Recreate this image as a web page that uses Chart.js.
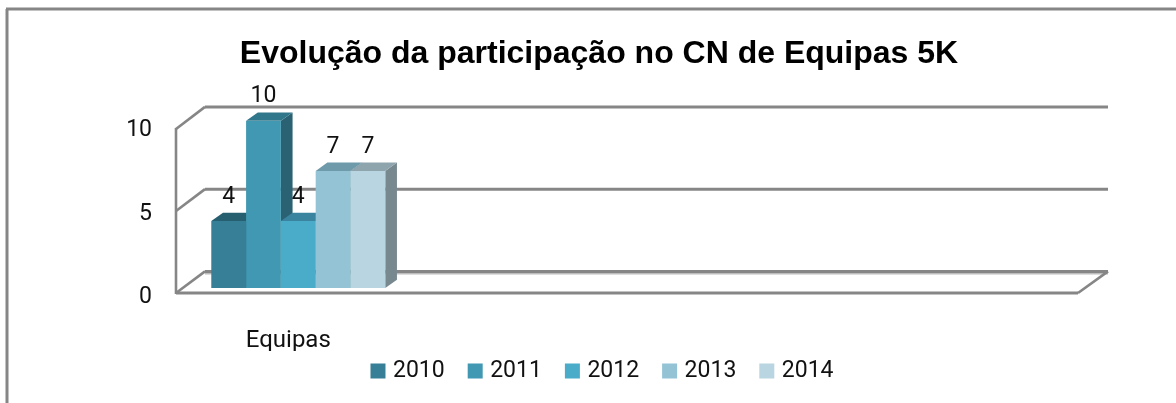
<!DOCTYPE html>
<html lang="pt">
<head>
<meta charset="utf-8"/>
<title>Evolução da participação</title>
<script src="https://cdn.jsdelivr.net/npm/chart.js"></script>
<style>
    html, body { margin: 0; padding: 0; background: #fff; overflow: hidden; }
    #wrap { position: relative; width: 1176px; height: 403px; }
</style>
</head>
<body>
<div id="wrap"><canvas id="grafico"></canvas></div>
<script>
const categorias = ['Equipas', '', '', ''];
const anos = ['2010', '2011', '2012', '2013', '2014'];
const valores2010 = [4];
const valores2011 = [10];
const valores2012 = [4];
const valores2013 = [7];
const valores2014 = [7];
const series = [valores2010, valores2011, valores2012, valores2013, valores2014];

const coresFrente = ['#367F97', '#4198B2', '#4AACC8', '#93C3D5', '#BAD5E2'];
const coresTopo = ['#265F70', '#31778B', '#3A84A0', '#6E9AAA', '#8FA5AE'];
const coresLado = ['#245868', '#2B6273', '#2F6F85', '#5F8A99', '#78888F'];
const corLinha = '#868686';
const fonte = 'Roboto, sans-serif';

// profundidade do efeito 3D
const profX = 11.7, profY = 8.3;

function linha(ctx, x1, y1, x2, y2, w, cor) {
    ctx.strokeStyle = cor || corLinha;
    ctx.lineWidth = w;
    ctx.beginPath();
    ctx.moveTo(x1, y1);
    ctx.lineTo(x2, y2);
    ctx.stroke();
}

function poligono(ctx, pts, cor) {
    ctx.fillStyle = cor;
    ctx.beginPath();
    pts.forEach((p, i) => i ? ctx.lineTo(p[0], p[1]) : ctx.moveTo(p[0], p[1]));
    ctx.closePath();
    ctx.fill();
}

// moldura, paredes e faces 3D (as frentes das barras sao do Chart.js)
const caixa3d = {
    id: 'caixa3d',
    afterLayout(chart) {
        // a legenda fica sobre a caixa do eixo x, como no original
        chart.legend.top -= 18.5;
        chart.legend.bottom -= 18.5;
        chart.legend.left += 5;
        chart.legend.right += 5;
    },
    beforeDatasetsDraw(chart) {
        const ctx = chart.ctx, area = chart.chartArea, y = chart.scales.y;
        ctx.save();
        linha(ctx, 7, 9, 7, 403, 3);
        linha(ctx, 6, 9, 1176, 9, 3);

        const fx = area.left - 9.6, fd = area.right - 9;
        const frenteY = v => y.getPixelForValue(0) + 5 - v * 16.4;
        const fundoY = v => y.getPixelForValue(0) - 16.6 - v * 16.45;
        const bx = fx + 29, bd = fd + 30;

        linha(ctx, fx, frenteY(10) - 1, fx, frenteY(0) + 1, 2.6);
        [0, 5, 10].forEach(v => {
            linha(ctx, fx, frenteY(v), bx, fundoY(v), 2.6);
            if (v === 0) {
                linha(ctx, bx, fundoY(v) + 2, bd, fundoY(v) + 2, 2, '#BDBDBD');
            }
            linha(ctx, bx, fundoY(v), bd, fundoY(v), 3);
        });
        linha(ctx, fx, frenteY(0), fd, frenteY(0), 2.8);
        linha(ctx, fd, frenteY(0), bd, fundoY(0), 2.6);

        chart.data.datasets.forEach((ds, i) => {
            const b = chart.getDatasetMeta(i).data[0];
            const e = b.x - b.width / 2, d = b.x + b.width / 2;
            poligono(ctx, [[d, b.y], [d + profX, b.y - profY], [d + profX, b.base - profY], [d, b.base]], coresLado[i]);
            poligono(ctx, [[e, b.y], [e + profX, b.y - profY], [d + profX, b.y - profY], [d, b.y]], coresTopo[i]);
        });
        ctx.restore();
    },
    afterDatasetsDraw(chart) {
        const ctx = chart.ctx;
        ctx.save();
        ctx.font = '23px ' + fonte;
        ctx.fillStyle = '#111';
        ctx.textAlign = 'center';
        ctx.textBaseline = 'middle';
        chart.data.datasets.forEach((ds, i) => {
            const b = chart.getDatasetMeta(i).data[0];
            ctx.fillText(ds.data[0], b.x, b.y - 24);
        });
        ctx.restore();
    }
};

new Chart(document.getElementById('grafico'), {
    type: 'bar',
    data: {
        labels: categorias,
        datasets: anos.map((a, i) => ({
            label: a,
            data: series[i],
            backgroundColor: coresFrente[i],
            borderWidth: 0,
            categoryPercentage: 0.772,
            barPercentage: 1
        }))
    },
    plugins: [caixa3d],
    options: {
        responsive: true,
        maintainAspectRatio: false,
        animation: false,
        events: [],
        layout: { padding: { left: 22, right: 0, top: 0, bottom: -8 } },
        plugins: {
            tooltip: { enabled: false },
            title: {
                display: true,
                text: 'Evolução da participação no CN de Equipas 5K',
                color: '#000',
                font: { family: '"Liberation Sans", Arial, sans-serif', size: 32, weight: 'bold' },
                padding: { top: 34.8, bottom: 47.5 }
            },
            legend: {
                position: 'bottom',
                labels: {
                    font: { family: fonte, size: 23 },
                    color: '#111',
                    usePointStyle: true,
                    pointStyle: 'rect',
                    boxWidth: 7,
                    boxHeight: 15,
                    padding: 27
                }
            }
        },
        scales: {
            x: {
                grid: { display: false },
                border: { display: false },
                ticks: {
                    color: '#111',
                    font: { family: fonte, size: 24 },
                    maxRotation: 0,
                    autoSkip: false,
                    labelOffset: -10,
                    padding: 31
                },
                afterFit(s) { s.height = 63; }
            },
            y: {
                min: 0,
                max: 10,
                grid: { display: false },
                border: { display: false },
                ticks: {
                    stepSize: 5,
                    color: '#111',
                    font: { family: fonte, size: 23 },
                    labelOffset: 9.5,
                    padding: 25.6
                },
                afterFit(s) { s.width = 163.6; }
            },
            yDir: {
                position: 'right',
                display: true,
                grid: { display: false },
                border: { display: false },
                ticks: { display: false },
                afterFit(s) { s.width = 89; }
            }
        }
    }
});
</script>
</body>
</html>
